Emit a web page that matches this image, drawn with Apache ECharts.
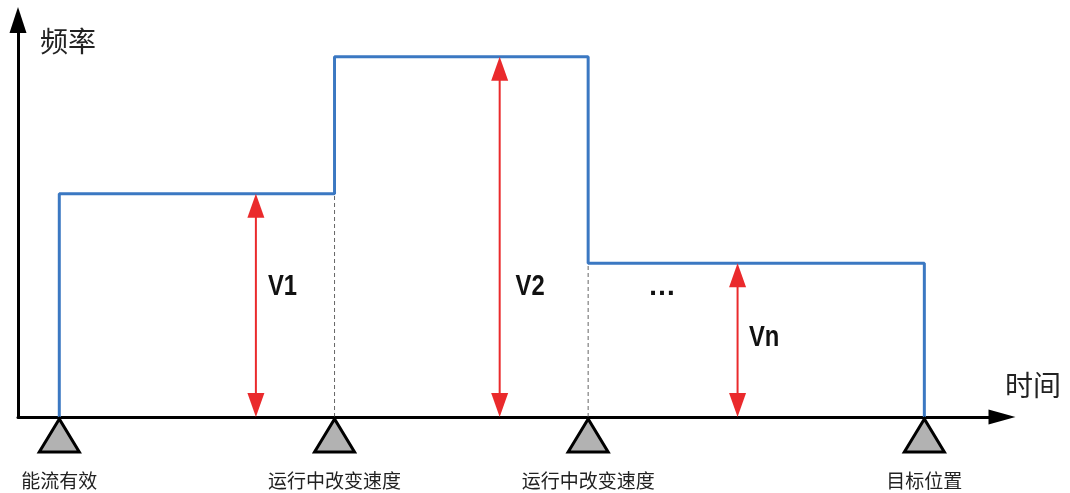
<!DOCTYPE html>
<html>
<head>
<meta charset="utf-8">
<script src="https://cdn.jsdelivr.net/npm/echarts@6/dist/echarts.min.js"></script>
<style>html,body{margin:0;padding:0;background:#fff}#main{width:1070px;height:493px}</style>
</head>
<body>
<div id="main"></div>
<script>
// 切换点（时间）和下方说明
var switchTimes = [4.2, 32.2, 58, 92.2];
var switchLabels = ['能流有效', '运行中改变速度', '运行中改变速度', '目标位置'];
// 各段频率
var levels = [22.5, 36.3, 15.5];
// 红色双箭头位置和名称
var arrowTimes = [24.2, 49, 73.2];
var arrowNames = ['V1', 'V2', 'Vn'];
var nameTimes = [26.9, 52.1, 75.9];
var nameLevels = [13.1, 13.1, 8.0];
var dotsPos = [65.5, 13.1];

var blue = '#3b78c2';
var red = '#ea2a2c';

// 阶梯折线
var stepData = [[switchTimes[0], 0]];
for (var i = 0; i < levels.length; i++) {
	stepData.push([switchTimes[i], levels[i]]);
	stepData.push([switchTimes[i + 1], levels[i]]);
}
stepData.push([switchTimes[switchTimes.length - 1], 0]);

// 虚线（中间切换点）
var dashData = [];
for (var i = 1; i < levels.length; i++) {
	dashData.push([switchTimes[i], Math.min(levels[i - 1], levels[i])]);
}

var arrowData = [];
for (var i = 0; i < arrowTimes.length; i++) {
	arrowData.push([arrowTimes[i], levels[i]]);
}
var nameData = [];
for (var i = 0; i < arrowNames.length; i++) {
	nameData.push([nameTimes[i], nameLevels[i]]);
}
var triData = switchTimes.map(function (t) { return [t, 0]; });

var boldFont = '"Liberation Sans", Arial, sans-serif';

var myChart = echarts.init(document.getElementById('main'));
var option = {
	animation: false,
	grid: { left: 18, right: 68, top: 20, bottom: 76 },
	xAxis: {
		type: 'value', min: 0, max: 100.1,
		axisLine: { show: true, symbol: ['none', 'triangle'], symbolSize: [15, 27], lineStyle: { color: '#000', width: 3 } },
		axisTick: { show: false }, axisLabel: { show: false }, splitLine: { show: false }
	},
	yAxis: {
		type: 'value', min: 0, max: 40,
		axisLine: { show: true, symbol: ['none', 'triangle'], symbolSize: [17, 26], lineStyle: { color: '#000', width: 3 } },
		axisTick: { show: false }, axisLabel: { show: false }, splitLine: { show: false }
	},
	graphic: [
		{ type: 'text', left: 40, top: 27, style: { text: '频率', fontSize: 28, fontFamily: 'Noto Sans CJK SC', fill: '#222' } },
		{ type: 'text', left: 1005, top: 371, style: { text: '时间', fontSize: 28, fontFamily: 'Noto Sans CJK SC', fill: '#222' } }
	],
	series: [
		{
			type: 'custom', data: dashData, z: 2,
			renderItem: function (params, api) {
				var p0 = api.coord([api.value(0), 0]);
				var p1 = api.coord([api.value(0), api.value(1)]);
				return { type: 'line', shape: { x1: p0[0], y1: p0[1], x2: p1[0], y2: p1[1] },
					style: { stroke: '#666', lineWidth: 1, lineDash: [4, 3] } };
			}
		},
		{
			type: 'line', data: stepData, symbol: 'none', z: 5,
			lineStyle: { color: blue, width: 3 }
		},
		{
			type: 'custom', data: arrowData, z: 6,
			renderItem: function (params, api) {
				var p0 = api.coord([api.value(0), 0]);
				var p1 = api.coord([api.value(0), api.value(1)]);
				var x = p0[0], hl = 24, hw = 8.5;
				return { type: 'group', children: [
					{ type: 'line', shape: { x1: x, y1: p0[1] - hl + 2, x2: x, y2: p1[1] + hl - 2 }, style: { stroke: red, lineWidth: 2 } },
					{ type: 'polygon', shape: { points: [[x, p1[1]], [x - hw, p1[1] + hl], [x + hw, p1[1] + hl]] }, style: { fill: red } },
					{ type: 'polygon', shape: { points: [[x, p0[1]], [x - hw, p0[1] - hl], [x + hw, p0[1] - hl]] }, style: { fill: red } }
				] };
			}
		},
		{
			type: 'custom', data: nameData, z: 6,
			renderItem: function (params, api) {
				var p = api.coord([api.value(0), api.value(1)]);
				return { type: 'text', x: p[0], y: p[1], scaleX: 0.82, style: { text: arrowNames[params.dataIndex], fontSize: 29, fontWeight: 'bold',
					fontFamily: boldFont, fill: '#111', align: 'center', verticalAlign: 'middle' } };
			}
		},
		{
			type: 'custom', data: [dotsPos], z: 6,
			renderItem: function (params, api) {
				var p = api.coord([api.value(0), api.value(1)]);
				return { type: 'text', x: p[0], y: p[1], style: { text: '…', fontSize: 28, fontWeight: 'bold',
					fontFamily: boldFont, fill: '#111', align: 'center', verticalAlign: 'middle' } };
			}
		},
		{
			type: 'custom', data: triData, z: 7,
			renderItem: function (params, api) {
				var p = api.coord([api.value(0), 0]);
				var x = p[0], y = p[1] + 2;
				return { type: 'group', children: [
					{ type: 'polygon', shape: { points: [[x, y], [x - 20, y + 33], [x + 20, y + 33]] },
						style: { fill: '#b2b2b2', stroke: '#000', lineWidth: 3 } },
					{ type: 'text', x: x, y: p[1] + 64, style: { text: switchLabels[params.dataIndex], fontSize: 19,
						fontFamily: 'Noto Sans CJK SC', fill: '#222', align: 'center', verticalAlign: 'middle' } }
				] };
			}
		}
	]
};
myChart.setOption(option);
</script>
</body>
</html>
